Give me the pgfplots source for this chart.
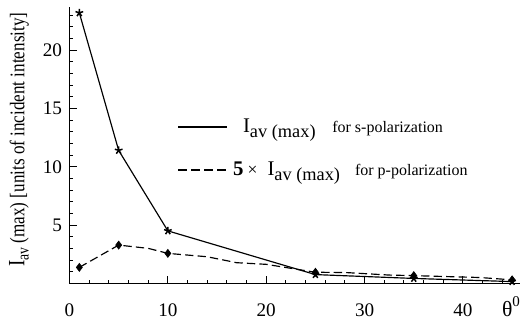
\documentclass[border=0pt]{standalone}
\usepackage{fontspec}
\setmainfont{Liberation Serif}
\usepackage{graphicx}
\usepackage{pgfplots}
\pgfplotsset{compat=1.18}
\begin{document}
\begin{tikzpicture}
\useasboundingbox (-41.7pt,-23.8pt) rectangle (272.1pt,170pt);
\begin{axis}[
  scale only axis, width=270.3pt, height=165.8pt,
  xmin=0, xmax=45.8, ymin=0, ymax=23.7,
  axis lines=left, axis line style={line width=0.9pt, -},
  tick align=inside,
  xtick={0,10,20,30,40}, minor xtick={2,4,...,44},
  ytick={5,10,15,20}, minor ytick={1,2,...,23},
  major tick length=4.5pt, minor tick length=2pt,
  every tick/.style={black, line width=0.6pt},
  /pgf/number format/assume math mode=true,
  tick label style={font=\fontsize{11.5}{12}\selectfont},
  xticklabel style={yshift=-9pt},
  yticklabel style={xshift=-1pt},
  ylabel={\scalebox{0.82}[1]{{\fontsize{14}{14}\selectfont I}\raisebox{-2.5pt}{\fontsize{10}{10}\selectfont av} (max) [units of incident intensity]}},
  ylabel style={at={(axis description cs:-0.112,0.52)}, anchor=center, font=\fontsize{12.5}{13}\selectfont},
  xlabel={{\fontsize{13}{13}\selectfont θ}\raisebox{6pt}{\fontsize{9}{9}\selectfont 0}},
  xlabel style={at={(axis description cs:0.98,0)}, anchor=base, yshift=-20pt},
  legend style={draw=none, fill=none, inner sep=0pt, at={(axis description cs:0.238,0.488)}, anchor=west, row sep=12pt, cells={anchor=west}},
  legend cell align=left,
]
\addplot[black, line width=0.7pt, legend image code/.code={\draw[black, line width=1.6pt] (0pt,0pt) -- (29pt,0pt);}]
  coordinates {(1,23.2) (5,11.4) (10,4.5) (25,0.75) (35,0.42) (45,0.15)};
\addlegendentry{\hspace{6pt}{\fontsize{12.5}{12}\selectfont I}\raisebox{-2.8pt}{\fontsize{11}{10}\selectfont av (max)}\hspace{10pt}{\fontsize{9.6}{9}\selectfont for s-polarization}}
\addplot[black, line width=0.7pt, dash pattern=on 5pt off 2.5pt, legend image code/.code={\draw[black, line width=1.6pt, dash pattern=on 5.4pt off 2.4pt] (0pt,0pt) -- (30pt,0pt);}]
  coordinates {(1,1.37) (5,3.28) (8,3.0) (10,2.57) (14,2.28) (17,1.77) (20,1.63) (22.5,1.29) (25,0.95) (28,0.93) (32.5,0.71) (35,0.66) (41.7,0.5) (45,0.3)};
\addlegendentry{{\fontsize{12.5}{12}\selectfont\bfseries 5} {\fontsize{10.5}{10}\selectfont ×}\hspace{6pt}{\fontsize{12.5}{12}\selectfont I}\raisebox{-2.8pt}{\fontsize{11}{10}\selectfont av (max)}\hspace{9pt}{\fontsize{9.6}{9}\selectfont for p-polarization}}
\addplot[black, only marks, mark=star, mark size=2.4pt, mark options={line width=0.9pt}, forget plot]
  coordinates {(1,23.2) (5,11.4) (10,4.5) (25,0.75) (35,0.42) (45,0.15)};
\addplot[black, only marks, mark=diamond*, mark size=2.4pt, forget plot]
  coordinates {(1,1.37) (5,3.28) (10,2.57) (25,0.95) (35,0.66) (45,0.3)};
\end{axis}
\end{tikzpicture}
\end{document}
